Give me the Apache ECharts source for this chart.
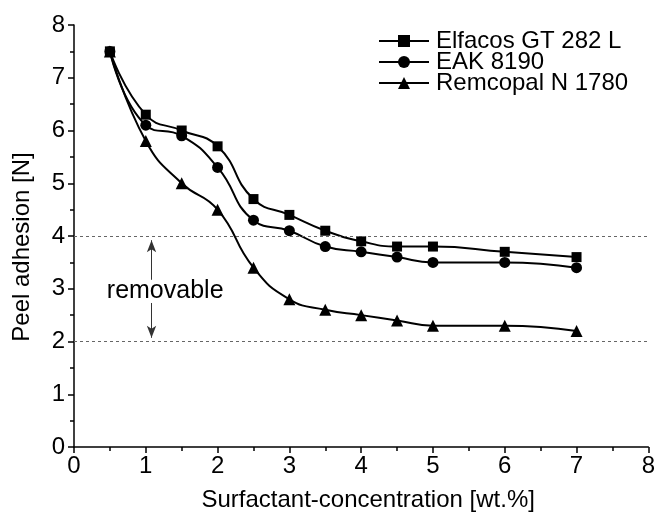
<!DOCTYPE html>
<html>
<head>
<meta charset="utf-8">
<script src="https://cdn.jsdelivr.net/npm/echarts@6/dist/echarts.min.js"></script>
<style>html,body{margin:0;padding:0;background:#fff;}#c{width:658px;height:520px;}</style>
</head>
<body>
<div id="c"></div>
<script>
var concentrations = [0.5, 1, 1.5, 2, 2.5, 3, 3.5, 4, 4.5, 5, 6, 7];
var elfacos = [7.5, 6.3, 6.0, 5.7, 4.7, 4.4, 4.1, 3.9, 3.8, 3.8, 3.7, 3.6];
var eak = [7.5, 6.1, 5.9, 5.3, 4.3, 4.1, 3.8, 3.7, 3.6, 3.5, 3.5, 3.4];
var remcopal = [7.5, 5.8, 5.0, 4.5, 3.4, 2.8, 2.6, 2.5, 2.4, 2.3, 2.3, 2.2];
var seriesNames = ['Elfacos GT 282 L', 'EAK 8190', 'Remcopal N 1780'];
var xTicks = [0, 1, 2, 3, 4, 5, 6, 7, 8];
var yTicks = [0, 1, 2, 3, 4, 5, 6, 7, 8];
var removableRange = [2, 4];
var removableLabel = 'removable';
var arrowX = 1.08;
var labelPos = [1.27, 2.95];

var FONT = 'Liberation Sans, Arial, sans-serif';
function pairs(ys) { return concentrations.map(function (x, i) { return [x, ys[i]]; }); }

var chart = echarts.init(document.getElementById('c'), null, {renderer: 'canvas'});

function lineSeries(name, data, symbol, size, extra) {
  var s = {
    name: name,
    type: 'line',
    data: pairs(data),
    smooth: 0.5,
    symbol: symbol,
    symbolSize: size,
    showAllSymbol: true,
    lineStyle: {color: '#000', width: 2},
    itemStyle: {color: '#000'},
    emphasis: {disabled: true},
    z: 3
  };
  if (extra) { for (var k in extra) s[k] = extra[k]; }
  return s;
}

var option = {
  animation: false,
  backgroundColor: '#fff',
  grid: {left: 74, right: 9, top: 25, bottom: 73, containLabel: false},
  legend: {
    orient: 'vertical',
    left: 378, top: 29,
    padding: 0,
    itemGap: -3,
    itemWidth: 50,
    itemHeight: 15,
    data: seriesNames,
    textStyle: {fontFamily: FONT, fontSize: 24, color: '#000', lineHeight: 21, padding: [0, 0, 0, 2]}
  },
  xAxis: {
    type: 'value',
    min: xTicks[0], max: xTicks[xTicks.length - 1], interval: 1,
    name: 'Surfactant-concentration [wt.%]',
    nameLocation: 'middle', nameGap: 41,
    nameTextStyle: {fontFamily: FONT, fontSize: 24, color: '#000', padding: [0, 0, 0, 14]},
    axisLine: {show: true, lineStyle: {color: '#000', width: 1.5}},
    axisTick: {show: true, inside: false, length: 6, lineStyle: {color: '#000', width: 1.5}},
    minorTick: {show: true, splitNumber: 2, length: 4, lineStyle: {color: '#000', width: 1.5}},
    axisLabel: {fontFamily: FONT, fontSize: 24, color: '#000', margin: 7},
    splitLine: {show: false}
  },
  yAxis: {
    type: 'value',
    min: yTicks[0], max: yTicks[yTicks.length - 1], interval: 1,
    name: 'Peel adhesion [N]',
    nameLocation: 'middle', nameGap: 40,
    nameTextStyle: {fontFamily: FONT, fontSize: 24, color: '#000', padding: [0, 22, 0, 0]},
    axisLine: {show: true, lineStyle: {color: '#000', width: 1.5}},
    axisTick: {show: true, inside: false, length: 6, lineStyle: {color: '#000', width: 1.5}},
    minorTick: {show: true, splitNumber: 2, length: 4, lineStyle: {color: '#000', width: 1.5}},
    axisLabel: {fontFamily: FONT, fontSize: 24, color: '#000', margin: 9},
    splitLine: {show: false}
  },
  series: [
    lineSeries(seriesNames[0], elfacos, 'rect', 10, {
      markLine: {
        silent: true, symbol: ['none', 'none'], label: {show: false},
        lineStyle: {color: '#666', width: 1, type: [3, 3]},
        data: [{yAxis: removableRange[1]}, {yAxis: removableRange[0]}]
      }
    }),
    lineSeries(seriesNames[1], eak, 'circle', 11, {
      markLine: {
        silent: true, symbol: ['none', 'arrow'], symbolSize: [7, 12], label: {show: false},
        lineStyle: {color: '#333', width: 1, type: 'solid'},
        data: [
          [{coord: [arrowX, 3.17]}, {coord: [arrowX, removableRange[1] - 0.08]}],
          [{coord: [arrowX, 2.73]}, {coord: [arrowX, removableRange[0] + 0.07]}]
        ]
      }
    }),
    lineSeries(seriesNames[2], remcopal, 'triangle', 12, {
      markPoint: {
        silent: true, symbol: 'circle', symbolSize: 1,
        itemStyle: {color: 'rgba(0,0,0,0)'},
        label: {show: true, position: 'inside', formatter: removableLabel, fontFamily: FONT, fontSize: 25, color: '#000'},
        data: [{coord: labelPos}]
      }
    })
  ]
};
chart.setOption(option);
</script>
</body>
</html>
